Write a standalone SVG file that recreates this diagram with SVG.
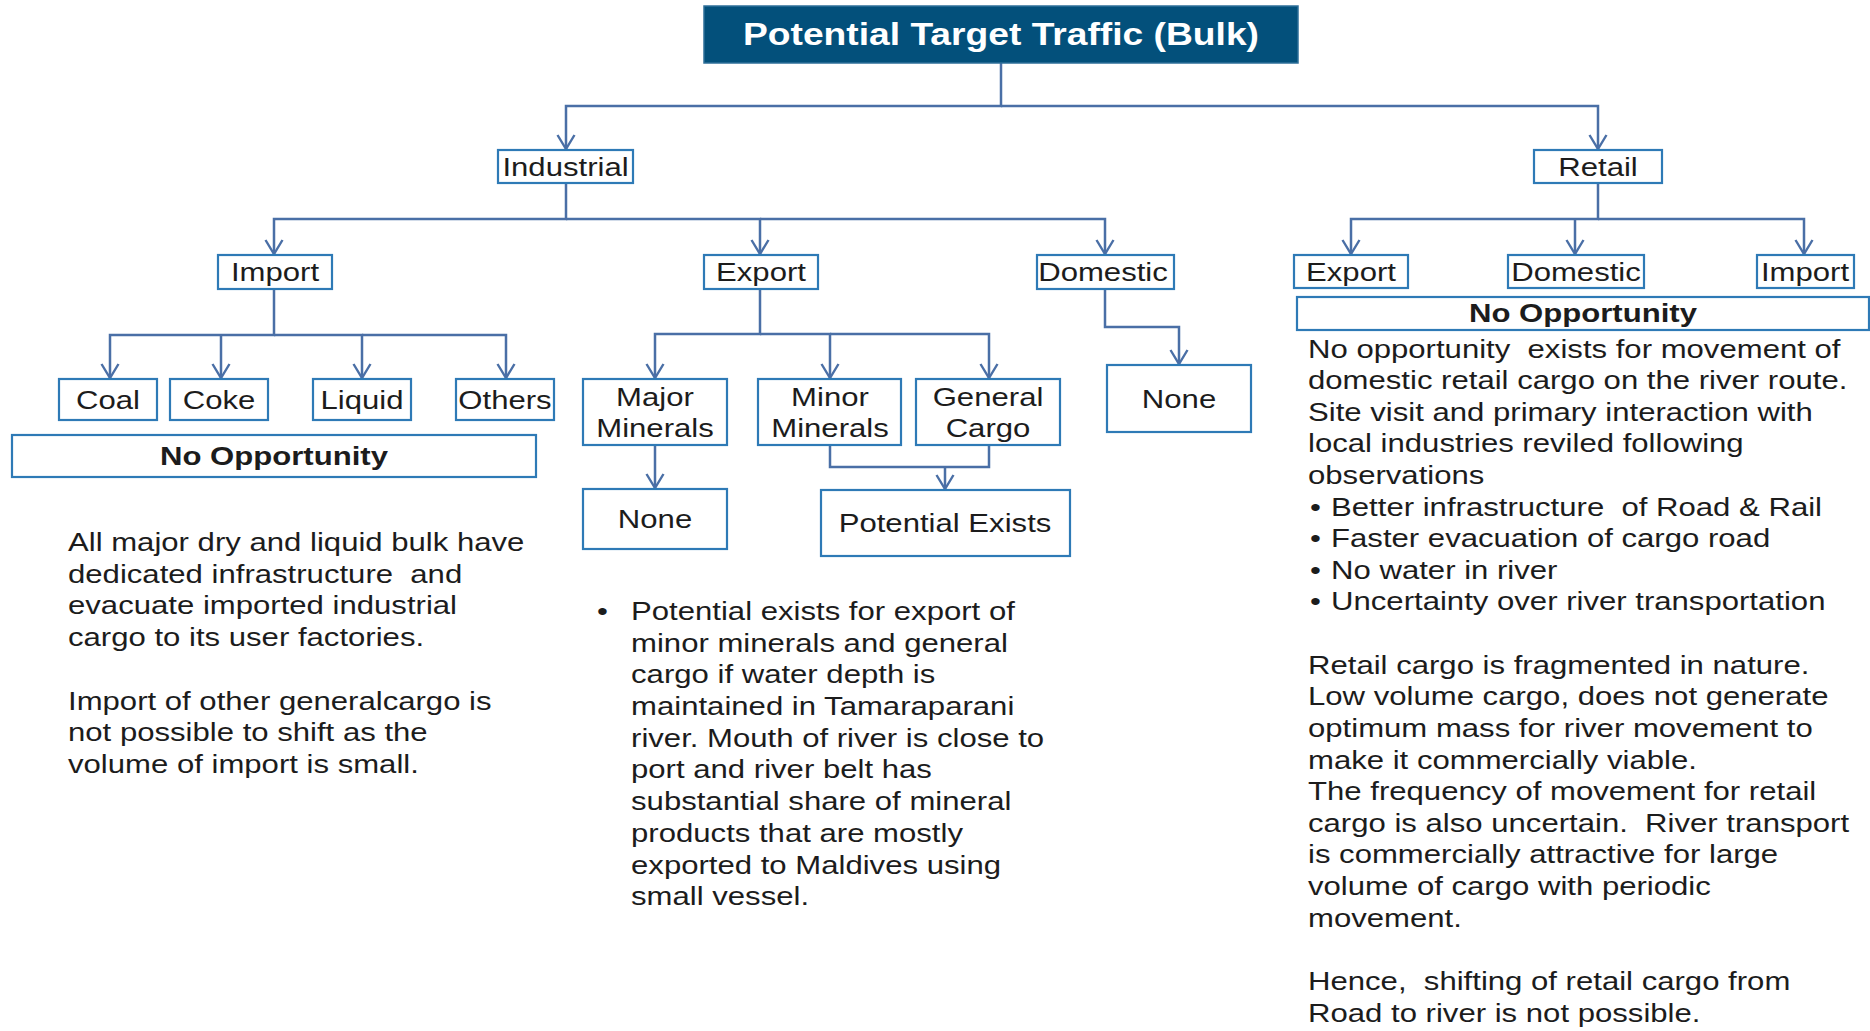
<svg xmlns="http://www.w3.org/2000/svg" width="1870" height="1031" viewBox="0 0 1870 1031">
  <style>
    .bg { fill: #ffffff; }
    .box { fill: #ffffff; stroke: #2e7ab6; stroke-width: 2.2; }
    .title-box { fill: #03507b; stroke: #2e6f99; stroke-width: 1.5; }
    .lbl { font-family: "Liberation Sans", Arial, sans-serif; font-size: 25.5px; fill: #1c1c1c; text-anchor: middle; }
    .bold { font-weight: bold; }
    .title { font-family: "Liberation Sans", Arial, sans-serif; font-size: 31px; font-weight: bold; fill: #ffffff; text-anchor: middle; }
    .body { font-family: "Liberation Sans", Arial, sans-serif; font-size: 25.5px; fill: #1c1c1c; }
    .conn { fill: none; stroke: #4a6fa6; stroke-width: 2.5; }
  </style>
  <defs>
    <!-- open V arrowhead used on every branch -->
    <marker id="vee" viewBox="0 0 16 20" refX="15" refY="10" markerWidth="16" markerHeight="20" markerUnits="userSpaceOnUse" orient="auto">
      <path d="M1,1.5 L15,10 L1,18.5" fill="none" stroke="#4a6fa6" stroke-width="2.4"/>
    </marker>
  </defs>

  <rect class="bg" x="0" y="0" width="1870" height="1031"/>

  <!-- connectors -->
  <g id="connectors" class="conn">
    <path d="M1001,63 V106 H566 V149" marker-end="url(#vee)"/>
    <path d="M1001,106 H1598 V149" marker-end="url(#vee)"/>

    <path d="M566,183 V219 H274 V254" marker-end="url(#vee)"/>
    <path d="M566,219 H760 V254" marker-end="url(#vee)"/>
    <path d="M760,219 H1105 V254" marker-end="url(#vee)"/>

    <path d="M274,289 V335 H110 V378" marker-end="url(#vee)"/>
    <path d="M221,335 V378" marker-end="url(#vee)"/>
    <path d="M274,335 H362 V378" marker-end="url(#vee)"/>
    <path d="M362,335 H506 V378" marker-end="url(#vee)"/>

    <path d="M760,289 V334 H655 V378" marker-end="url(#vee)"/>
    <path d="M760,334 H830 V378" marker-end="url(#vee)"/>
    <path d="M830,334 H989 V378" marker-end="url(#vee)"/>

    <path d="M1105,289 V327 H1179 V364" marker-end="url(#vee)"/>

    <path d="M655,445 V488" marker-end="url(#vee)"/>
    <path d="M830,445 V467 H989 V445"/>
    <path d="M945,467 V489" marker-end="url(#vee)"/>

    <path d="M1598,183 V219 H1351 V254" marker-end="url(#vee)"/>
    <path d="M1598,219 H1804 V254" marker-end="url(#vee)"/>
    <path d="M1575,219 V254" marker-end="url(#vee)"/>
  </g>

  <!-- root -->
  <g id="node-root">
    <rect class="title-box" x="704" y="6" width="594" height="57"/>
    <text class="title" transform="translate(1001 0) scale(1.2 1)" x="0" y="45">Potential Target Traffic (Bulk)</text>
  </g>

  <!-- industrial branch -->
  <g id="node-industrial">
    <rect class="box" x="498" y="150" width="135" height="33"/>
    <text class="lbl" transform="translate(565.5 0) scale(1.22 1)" x="0" y="176">Industrial</text>
  </g>
  <g id="node-ind-import">
    <rect class="box" x="218" y="255" width="114" height="34"/>
    <text class="lbl" transform="translate(275 0) scale(1.22 1)" x="0" y="281">Import</text>
  </g>
  <g id="node-ind-export">
    <rect class="box" x="704" y="255" width="114" height="34"/>
    <text class="lbl" transform="translate(761 0) scale(1.22 1)" x="0" y="281">Export</text>
  </g>
  <g id="node-ind-domestic">
    <rect class="box" x="1037" y="255" width="137" height="34"/>
    <text class="lbl" transform="translate(1103 0) scale(1.22 1)" x="0" y="281">Domestic</text>
  </g>

  <g id="node-coal">
    <rect class="box" x="59" y="379" width="98" height="41"/>
    <text class="lbl" transform="translate(108 0) scale(1.22 1)" x="0" y="409">Coal</text>
  </g>
  <g id="node-coke">
    <rect class="box" x="170" y="379" width="98" height="41"/>
    <text class="lbl" transform="translate(219 0) scale(1.22 1)" x="0" y="409">Coke</text>
  </g>
  <g id="node-liquid">
    <rect class="box" x="313" y="379" width="98" height="41"/>
    <text class="lbl" transform="translate(362 0) scale(1.22 1)" x="0" y="409">Liquid</text>
  </g>
  <g id="node-others">
    <rect class="box" x="456" y="379" width="98" height="41"/>
    <text class="lbl" transform="translate(505 0) scale(1.22 1)" x="0" y="409">Others</text>
  </g>
  <g id="node-import-no-opportunity">
    <rect class="box" x="12" y="435" width="524" height="42"/>
    <text class="lbl bold" transform="translate(274 0) scale(1.22 1)" x="0" y="465">No Opportunity</text>
  </g>

  <g id="node-major-minerals">
    <rect class="box" x="583" y="379" width="144" height="66"/>
    <text class="lbl" transform="translate(655 0) scale(1.22 1)"><tspan x="0" y="406">Major</tspan><tspan x="0" y="437">Minerals</tspan></text>
  </g>
  <g id="node-minor-minerals">
    <rect class="box" x="758" y="379" width="143" height="66"/>
    <text class="lbl" transform="translate(830 0) scale(1.22 1)"><tspan x="0" y="406">Minor</tspan><tspan x="0" y="437">Minerals</tspan></text>
  </g>
  <g id="node-general-cargo">
    <rect class="box" x="916" y="379" width="144" height="66"/>
    <text class="lbl" transform="translate(988 0) scale(1.22 1)"><tspan x="0" y="406">General</tspan><tspan x="0" y="437">Cargo</tspan></text>
  </g>
  <g id="node-domestic-none">
    <rect class="box" x="1107" y="365" width="144" height="67"/>
    <text class="lbl" transform="translate(1179 0) scale(1.22 1)" x="0" y="408">None</text>
  </g>
  <g id="node-major-none">
    <rect class="box" x="583" y="489" width="144" height="60"/>
    <text class="lbl" transform="translate(655 0) scale(1.22 1)" x="0" y="528">None</text>
  </g>
  <g id="node-potential-exists">
    <rect class="box" x="821" y="490" width="249" height="66"/>
    <text class="lbl" transform="translate(945 0) scale(1.22 1)" x="0" y="532">Potential Exists</text>
  </g>

  <!-- retail branch -->
  <g id="node-retail">
    <rect class="box" x="1534" y="150" width="128" height="33"/>
    <text class="lbl" transform="translate(1598 0) scale(1.22 1)" x="0" y="176">Retail</text>
  </g>
  <g id="node-ret-export">
    <rect class="box" x="1294" y="255" width="114" height="33"/>
    <text class="lbl" transform="translate(1351 0) scale(1.22 1)" x="0" y="281">Export</text>
  </g>
  <g id="node-ret-domestic">
    <rect class="box" x="1508" y="255" width="136" height="33"/>
    <text class="lbl" transform="translate(1576 0) scale(1.22 1)" x="0" y="281">Domestic</text>
  </g>
  <g id="node-ret-import">
    <rect class="box" x="1757" y="255" width="97" height="33"/>
    <text class="lbl" transform="translate(1805 0) scale(1.22 1)" x="0" y="281">Import</text>
  </g>
  <g id="node-retail-no-opportunity">
    <rect class="box" x="1297" y="297" width="572" height="33"/>
    <text class="lbl bold" transform="translate(1583 0) scale(1.22 1)" x="0" y="322">No Opportunity</text>
  </g>

  <!-- explanatory notes -->
  <g id="note-import">
    <text class="body" transform="translate(68 0) scale(1.22 1)">
      <tspan x="0" y="551">All major dry and liquid bulk have</tspan>
      <tspan x="0" y="583">dedicated infrastructure&#160; and</tspan>
      <tspan x="0" y="614">evacuate imported industrial</tspan>
      <tspan x="0" y="646">cargo to its user factories.</tspan>
      <tspan x="0" y="710">Import of other generalcargo is</tspan>
      <tspan x="0" y="741">not possible to shift as the</tspan>
      <tspan x="0" y="773">volume of import is small.</tspan>
    </text>
  </g>

  <g id="note-export">
    <text class="body" transform="translate(597 0) scale(1.22 1)">
      <tspan x="0" y="620">•</tspan>
      <tspan x="27.9" y="620">Potential exists for export of</tspan>
      <tspan x="27.9" y="652">minor minerals and general</tspan>
      <tspan x="27.9" y="683">cargo if water depth is</tspan>
      <tspan x="27.9" y="715">maintained in Tamaraparani</tspan>
      <tspan x="27.9" y="747">river. Mouth of river is close to</tspan>
      <tspan x="27.9" y="778">port and river belt has</tspan>
      <tspan x="27.9" y="810">substantial share of mineral</tspan>
      <tspan x="27.9" y="842">products that are mostly</tspan>
      <tspan x="27.9" y="874">exported to Maldives using</tspan>
      <tspan x="27.9" y="905">small vessel.</tspan>
    </text>
  </g>

  <g id="note-retail">
    <text class="body" transform="translate(1308 0) scale(1.22 1)">
      <tspan x="0" y="358">No opportunity&#160; exists for movement of</tspan>
      <tspan x="0" y="389">domestic retail cargo on the river route.</tspan>
      <tspan x="0" y="421">Site visit and primary interaction with</tspan>
      <tspan x="0" y="452">local industries reviled following</tspan>
      <tspan x="0" y="484">observations</tspan>
      <tspan x="1.6" y="516">•</tspan><tspan x="18.9" y="516">Better infrastructure&#160; of Road &amp; Rail</tspan>
      <tspan x="1.6" y="547">•</tspan><tspan x="18.9" y="547">Faster evacuation of cargo road</tspan>
      <tspan x="1.6" y="579">•</tspan><tspan x="18.9" y="579">No water in river</tspan>
      <tspan x="1.6" y="610">•</tspan><tspan x="18.9" y="610">Uncertainty over river transportation</tspan>
      <tspan x="0" y="674">Retail cargo is fragmented in nature.</tspan>
      <tspan x="0" y="705">Low volume cargo, does not generate</tspan>
      <tspan x="0" y="737">optimum mass for river movement to</tspan>
      <tspan x="0" y="769">make it commercially viable.</tspan>
      <tspan x="0" y="800">The frequency of movement for retail</tspan>
      <tspan x="0" y="832">cargo is also uncertain.&#160; River transport</tspan>
      <tspan x="0" y="863">is commercially attractive for large</tspan>
      <tspan x="0" y="895">volume of cargo with periodic</tspan>
      <tspan x="0" y="927">movement.</tspan>
      <tspan x="0" y="990">Hence,&#160; shifting of retail cargo from</tspan>
      <tspan x="0" y="1022">Road to river is not possible.</tspan>
    </text>
  </g>
</svg>
